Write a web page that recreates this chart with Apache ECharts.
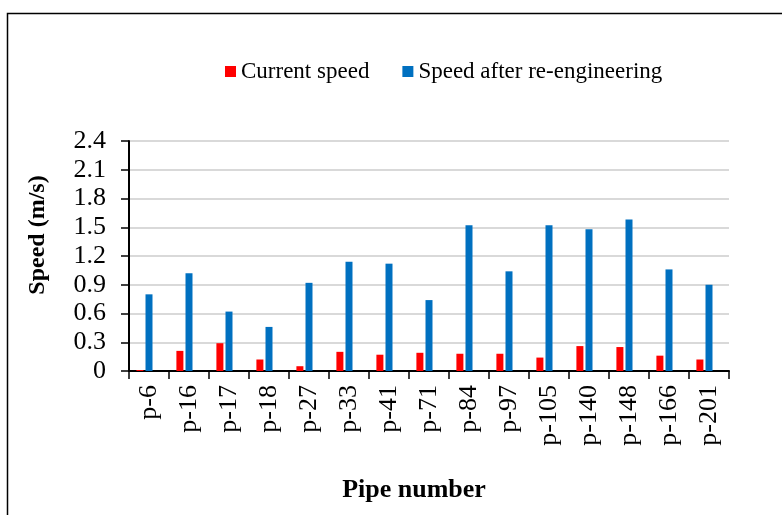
<!DOCTYPE html>
<html>
<head>
<meta charset="utf-8">
<title>Pipe speed</title>
<script src="https://cdn.jsdelivr.net/npm/echarts@6/dist/echarts.min.js"></script>
<style>
    html, body { margin: 0; padding: 0; background: #fff; }
    #main { width: 782px; height: 515px; }
</style>
</head>
<body>
<div id="main"></div>
<script>
const pipes = ['p-6', 'p-16', 'p-17', 'p-18', 'p-27', 'p-33', 'p-41', 'p-71',
    'p-84', 'p-97', 'p-105', 'p-140', 'p-148', 'p-166', 'p-201'];
const currentSpeed = [0.01, 0.21, 0.29, 0.12, 0.05, 0.20, 0.17, 0.19,
    0.18, 0.18, 0.14, 0.26, 0.25, 0.16, 0.12];
const speedAfter = [0.80, 1.02, 0.62, 0.46, 0.92, 1.14, 1.12, 0.74,
    1.52, 1.04, 1.52, 1.48, 1.58, 1.06, 0.90];
const yTicks = [0, 0.3, 0.6, 0.9, 1.2, 1.5, 1.8, 2.1, 2.4];

const font = "'Liberation Serif', 'Times New Roman', serif";

let option = {
    animation: false,
    backgroundColor: '#fff',
    textStyle: { fontFamily: font, color: '#000' },
    // outer frame of the figure
    graphic: [{
        type: 'rect',
        left: 5, top: 11,
        shape: { width: 800, height: 600 },
        style: { fill: 'none', stroke: '#000', lineWidth: 1.5 }
    }],
    legend: {
        data: ['Current speed', 'Speed after re-engineering'],
        left: 220,
        top: 55,
        itemWidth: 11,
        itemHeight: 11,
        itemGap: 33,
        icon: 'rect',
        textStyle: { fontFamily: font, fontSize: 23, color: '#000' }
    },
    grid: { left: 129, right: 53, top: 141, bottom: 144 },
    xAxis: {
        type: 'category',
        data: pipes,
        name: 'Pipe number',
        nameLocation: 'middle',
        nameGap: 106,
        nameTextStyle: { fontFamily: font, fontSize: 26, fontWeight: 'bold', color: '#000', padding: [0, 30, 0, 0] },
        axisLine: { lineStyle: { color: '#000', width: 2 } },
        axisTick: { show: true, length: 8, lineStyle: { color: '#000', width: 1.5 } },
        axisLabel: { rotate: 90, margin: 14, fontSize: 26, color: '#000', fontFamily: font, padding: [8, 0, 0, 0] }
    },
    yAxis: {
        type: 'value',
        min: 0,
        max: yTicks[yTicks.length - 1],
        interval: 0.3,
        name: 'Speed (m/s)',
        nameLocation: 'middle',
        nameGap: 79,
        nameTextStyle: { fontFamily: font, fontSize: 24, fontWeight: 'bold', color: '#000', padding: [0, 0, 0, 42] },
        axisLine: { show: true, lineStyle: { color: '#000', width: 2 } },
        axisTick: { show: true, length: 8, lineStyle: { color: '#000', width: 1.5 } },
        axisLabel: {
            margin: 23, fontSize: 26, color: '#000', fontFamily: font,
            formatter: v => v === 0 ? '0' : v.toFixed(1)
        },
        splitLine: { lineStyle: { color: '#d9d9d9', width: 2 } }
    },
    series: [
        {
            name: 'Current speed',
            type: 'bar',
            data: currentSpeed,
            barWidth: 7,
            barGap: '30%',
            itemStyle: { color: '#ff0000' }
        },
        {
            name: 'Speed after re-engineering',
            type: 'bar',
            data: speedAfter,
            barWidth: 7,
            barGap: '30%',
            itemStyle: { color: '#0070c0' }
        },
        {
            // empty slot, the original sheet keeps room for a third series
            name: 'empty',
            type: 'bar',
            data: [],
            barWidth: 7,
            barGap: '30%'
        }
    ]
};

var myChart = echarts.init(document.getElementById('main'));
myChart.setOption(option);
</script>
</body>
</html>
